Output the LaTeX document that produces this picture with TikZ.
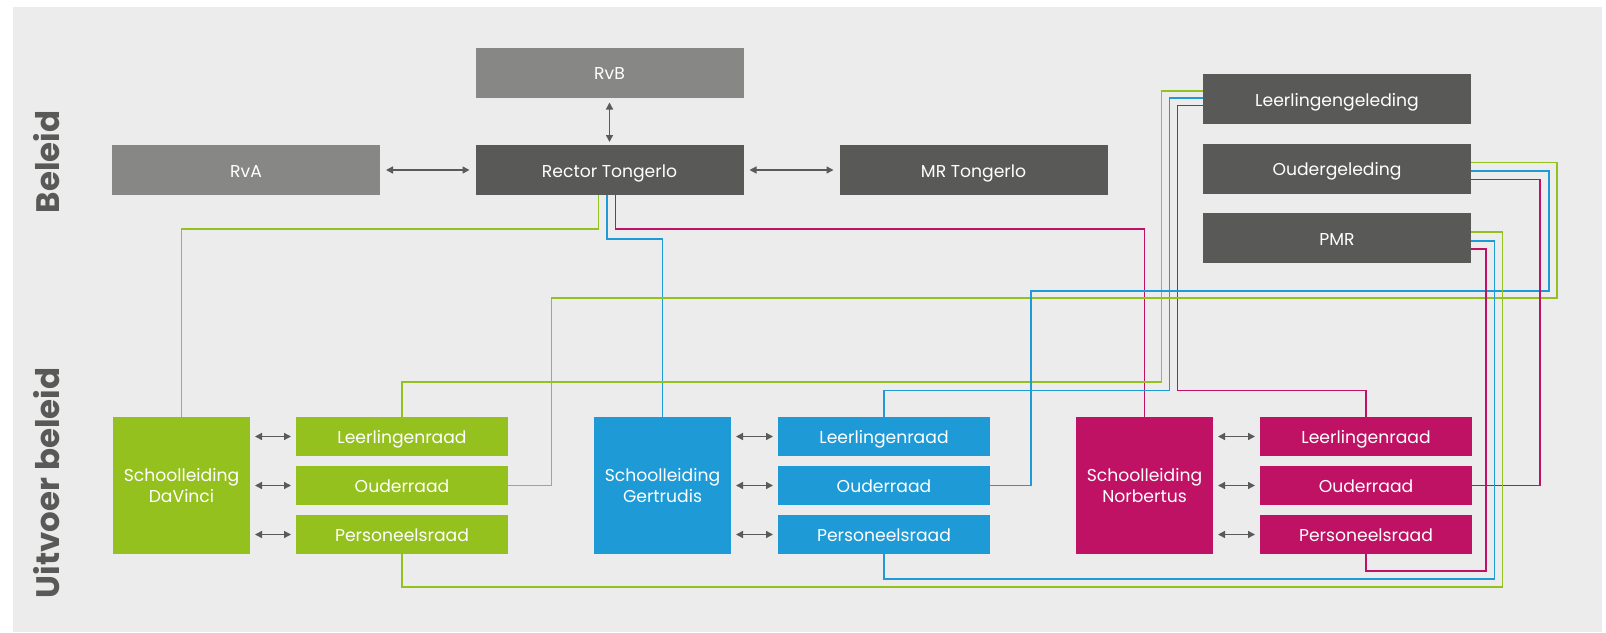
\documentclass[tikz,border=0pt]{standalone}
\usepackage{fontspec}
\setmainfont{Poppins}
\usetikzlibrary{arrows.meta}
\definecolor{achtergrond}{RGB}{236,236,236}
\definecolor{lichtgrijs}{RGB}{135,135,133}
\definecolor{donkergrijs}{RGB}{89,89,87}
\definecolor{pijlgrijs}{RGB}{90,90,88}
\definecolor{groen}{RGB}{149,193,31}
\definecolor{blauw}{RGB}{30,154,214}
\definecolor{roze}{RGB}{192,18,101}

\begin{document}
\begin{tikzpicture}[x=1pt,y=-1pt,
    blok/.style={fill=#1, text=white, minimum width=268pt, minimum height=50pt,
        inner sep=0pt, outer sep=0pt, text height=14pt, text depth=0pt,
        font=\fontsize{17.2}{20.5}\selectfont},
    school/.style={blok=#1, minimum width=137pt, minimum height=137pt, align=center,
        text height=, text depth=},
    raad/.style={blok=#1, minimum width=212pt, minimum height=39pt},
    lijn/.style={draw=#1, line width=1.4pt},
    pijl/.style={draw=pijlgrijs, line width=1.4pt,
        {Triangle[length=7pt,width=7pt]}-{Triangle[length=7pt,width=7pt]}},
    zijtekst/.style={rotate=90, text=donkergrijs, font=\fontsize{32.5}{38}\selectfont\bfseries}]
    \useasboundingbox (0,0) rectangle (1606,632);
    \fill[achtergrond] (13,7) rectangle (1602,632);

    % bovenste laag
    \node[blok=lichtgrijs] (rvb) at (609.5,72.5) {RvB};
    \node[blok=lichtgrijs] (rva) at (246,170) {RvA};
    \node[blok=donkergrijs] (rector) at (609.5,170) {Rector Tongerlo};
    \node[blok=donkergrijs] (mr) at (973.5,170) {MR Tongerlo};
    \node[blok=donkergrijs] (llgel) at (1337,99) {Leerlingengeleding};
    \node[blok=donkergrijs] (ougel) at (1337,168.5) {Oudergeleding};
    \node[blok=donkergrijs] (pmr) at (1337,238) {PMR};

    \node[zijtekst] (beleid) at (47,162) {Beleid};
    \node[zijtekst] (uitvoer) at (47,483) {Uitvoer beleid};

    % scholen
    \node[school=groen] (dv) at (181.5,485.5) {Schoolleiding\\DaVinci};
    \node[raad=groen] (dvll) at (402,436.5) {Leerlingenraad};
    \node[raad=groen] (dvou) at (402,485.5) {Ouderraad};
    \node[raad=groen] (dvpr) at (402,534.5) {Personeelsraad};

    \node[school=blauw] (gt) at (662.5,485.5) {Schoolleiding\\Gertrudis};
    \node[raad=blauw] (gtll) at (884,436.5) {Leerlingenraad};
    \node[raad=blauw] (gtou) at (884,485.5) {Ouderraad};
    \node[raad=blauw] (gtpr) at (884,534.5) {Personeelsraad};

    \node[school=roze] (nb) at (1144.5,485.5) {Schoolleiding\\Norbertus};
    \node[raad=roze] (nbll) at (1366,436.5) {Leerlingenraad};
    \node[raad=roze] (nbou) at (1366,485.5) {Ouderraad};
    \node[raad=roze] (nbpr) at (1366,534.5) {Personeelsraad};

    % pijlen
    \draw[pijl] ([yshift=-5pt]rvb.south) -- ([yshift=3pt]rector.north);
    \draw[pijl] ([xshift=6pt]rva.east) -- ([xshift=-6pt]rector.west);
    \draw[pijl] ([xshift=6pt]rector.east) -- ([xshift=-6pt]mr.west);
    \draw[pijl] ([xshift=5pt]dv.east |- dvll.west) -- ([xshift=-5pt]dvll.west);
    \draw[pijl] ([xshift=5pt]dv.east |- dvou.west) -- ([xshift=-5pt]dvou.west);
    \draw[pijl] ([xshift=5pt]dv.east |- dvpr.west) -- ([xshift=-5pt]dvpr.west);
    \draw[pijl] ([xshift=5pt]gt.east |- gtll.west) -- ([xshift=-5pt]gtll.west);
    \draw[pijl] ([xshift=5pt]gt.east |- gtou.west) -- ([xshift=-5pt]gtou.west);
    \draw[pijl] ([xshift=5pt]gt.east |- gtpr.west) -- ([xshift=-5pt]gtpr.west);
    \draw[pijl] ([xshift=5pt]nb.east |- nbll.west) -- ([xshift=-5pt]nbll.west);
    \draw[pijl] ([xshift=5pt]nb.east |- nbou.west) -- ([xshift=-5pt]nbou.west);
    \draw[pijl] ([xshift=5pt]nb.east |- nbpr.west) -- ([xshift=-5pt]nbpr.west);

    % rector naar scholen
    \draw[lijn=groen] ([xshift=-11pt]rector.south) -- ++(0,34) -| (dv.north);
    \draw[lijn=blauw] ([xshift=-2.5pt]rector.south) -- ++(0,44) -| (gt.north);
    \draw[lijn=roze] ([xshift=6pt]rector.south) -- ++(0,34) -| (nb.north);

    % leerlingenraden
    \draw[lijn=groen] (dvll.north) -- ++(0,-35) -| ([xshift=-41.5pt,yshift=8pt]llgel.west) -- ([yshift=8pt]llgel.west);
    \draw[lijn=blauw] (gtll.north) -- ++(0,-26.5) -| ([xshift=-33.5pt,yshift=1pt]llgel.west) -- ([yshift=1pt]llgel.west);
    \draw[lijn=roze] (nbll.north) -- ++(0,-26.5) -| ([xshift=-25.5pt,yshift=-6.5pt]llgel.west) -- ([yshift=-6.5pt]llgel.west);

    % ouderraden
    \draw[lijn=groen] (dvou.east) -- ++(43.5,0) |- (1557,298) |- ([yshift=6pt]ougel.east);
    \draw[lijn=blauw] (gtou.east) -- ++(41,0) |- (1549,291) |- ([yshift=-2.5pt]ougel.east);
    \draw[lijn=roze] (nbou.east) -| ([xshift=69pt,yshift=-11pt]ougel.east) -- ([yshift=-11pt]ougel.east);

    % personeelsraden
    \draw[lijn=groen] (dvpr.south) -- ++(0,33) -| ([xshift=31.5pt,yshift=6pt]pmr.east) -- ([yshift=6pt]pmr.east);
    \draw[lijn=blauw] (gtpr.south) -- ++(0,25) -| ([xshift=23.5pt,yshift=-3pt]pmr.east) -- ([yshift=-3pt]pmr.east);
    \draw[lijn=roze] (nbpr.south) -- ++(0,17) -| ([xshift=15pt,yshift=-11pt]pmr.east) -- ([yshift=-11pt]pmr.east);
\end{tikzpicture}
\end{document}
